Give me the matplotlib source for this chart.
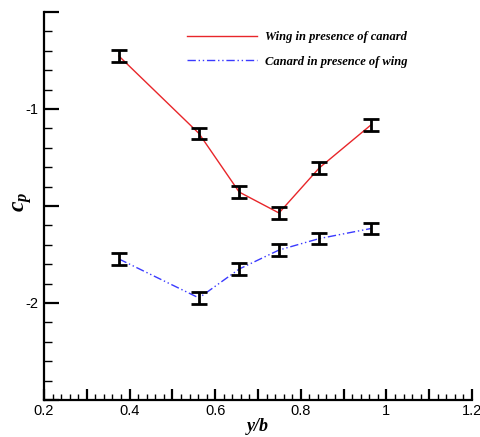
import matplotlib
matplotlib.use("Agg")
import matplotlib.pyplot as plt
from matplotlib.ticker import MultipleLocator, FixedLocator, FixedFormatter

plt.rcParams['mathtext.fontset'] = 'custom'
plt.rcParams['mathtext.it'] = 'Liberation Serif:italic:bold'
plt.rcParams['mathtext.rm'] = 'Liberation Serif:bold'

x_vals = [0.375, 0.562, 0.656, 0.749, 0.843, 0.964]
wing_cp = [-0.727, -1.126, -1.428, -1.536, -1.304, -1.082]
canard_cp = [-1.773, -1.974, -1.825, -1.727, -1.668, -1.616]
wing_err = [0.03, 0.03, 0.03, 0.03, 0.03, 0.03]
canard_err = [0.03, 0.03, 0.03, 0.03, 0.03, 0.03]
wing_label = "Wing in presence of canard"
canard_label = "Canard in presence of wing"
x_tick_labels = ["0.2", "0.4", "0.6", "0.8", "1", "1.2"]
y_tick_labels = ["", "-2", "", "-1", ""]

fig = plt.figure(figsize=(4.8, 4.37), dpi=100)
ax = fig.add_axes([44/480, 1 - 400/437, 428/480, 388/437])

lw, = ax.plot(x_vals, wing_cp, color='#e8262a', lw=1.0, label=wing_label)
lc, = ax.plot(x_vals, canard_cp, color='#3a3aff', lw=1.0,
              dashes=[6, 2, 1, 2, 1, 2], label=canard_label)
ax.errorbar(x_vals, wing_cp, yerr=wing_err, fmt='none', ecolor='black',
            elinewidth=2.0, capsize=6, capthick=2.0)
ax.errorbar(x_vals, canard_cp, yerr=canard_err, fmt='none', ecolor='black',
            elinewidth=2.0, capsize=6, capthick=2.0)

ax.set_xlim(0.2, 1.2)
ax.set_ylim(-2.5, -0.5)

for s in ['top', 'right']:
    ax.spines[s].set_visible(False)
for s in ['left', 'bottom']:
    ax.spines[s].set_linewidth(1.6)

xt = [0.2 + 0.1 * i for i in range(11)]
xl = []
for i in range(11):
    xl.append(x_tick_labels[i // 2] if i % 2 == 0 else "")
ax.xaxis.set_major_locator(FixedLocator(xt))
ax.xaxis.set_major_formatter(FixedFormatter(xl))
ax.xaxis.set_minor_locator(MultipleLocator(0.02))

yt = [-2.5, -2.0, -1.5, -1.0, -0.5]
ax.yaxis.set_major_locator(FixedLocator(yt))
ax.yaxis.set_major_formatter(FixedFormatter(y_tick_labels))
ax.yaxis.set_minor_locator(MultipleLocator(0.1))

ax.tick_params(axis='both', which='both', direction='in', color='black')
ax.tick_params(axis='x', which='major', length=8, width=1.6, labelsize=10.5, pad=3)
ax.tick_params(axis='x', which='minor', length=4, width=1.0)
ax.tick_params(axis='y', which='major', length=11, width=1.6, labelsize=10.5, pad=4)
ax.tick_params(axis='y', which='minor', length=6, width=1.0)
for t in ax.get_xticklabels() + ax.get_yticklabels():
    t.set_fontfamily('Liberation Sans')

ax.set_xlabel('y/b', fontfamily='Liberation Serif', fontweight='bold',
              fontstyle='italic', fontsize=13, labelpad=0)
fig.text(22/480, 1 - 202/437, r'$c_p$', fontsize=17, rotation=90,
         ha='center', va='center')

leg = ax.legend(handles=[lw, lc], loc='upper left',
                bbox_to_anchor=(132/428, 1.0 - 8/388), frameon=False,
                handlelength=5.6, handletextpad=0.6, labelspacing=1.0,
                prop={'family': 'Liberation Serif', 'weight': 'bold',
                      'style': 'italic', 'size': 9})

fig.savefig('out.png', dpi=100)
